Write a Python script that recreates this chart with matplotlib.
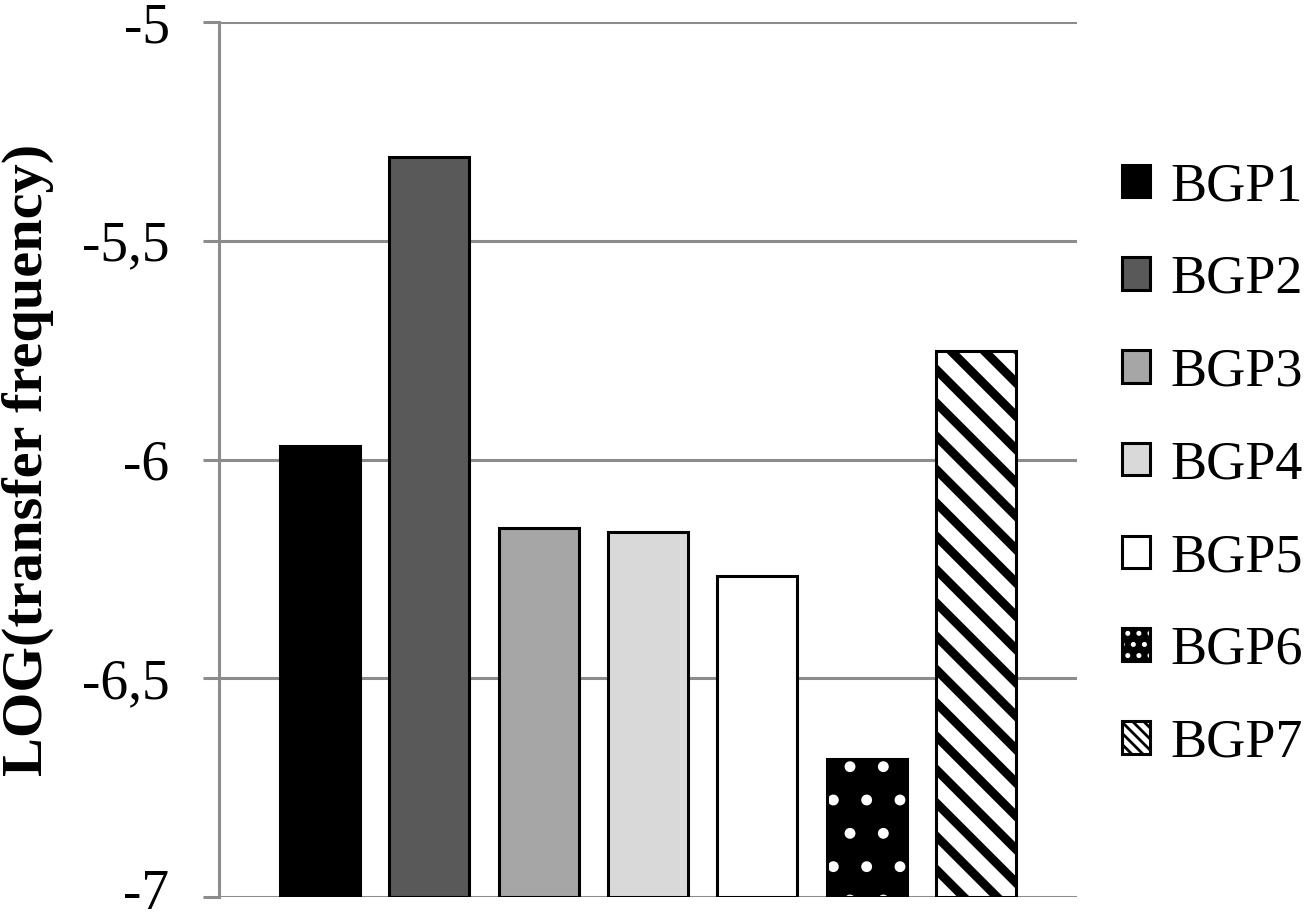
import matplotlib
matplotlib.use("Agg")
import matplotlib.pyplot as plt
from matplotlib.patches import Patch
from matplotlib.legend_handler import HandlerTuple
from matplotlib.transforms import ScaledTranslation
import numpy as np

series = ["BGP1", "BGP2", "BGP3", "BGP4", "BGP5", "BGP6", "BGP7"]
values = [-5.969, -5.309, -6.157, -6.166, -6.266, -6.685, -5.752]
yticks = [-7, -6.5, -6, -5.5, -5]
ytick_labels = ["-7", "-6,5", "-6", "-5,5", "-5"]

faces = ["#000000", "#595959", "#a6a6a6", "#d9d9d9", "#ffffff", "#000000", "#ffffff"]
hatches = [None, None, None, None, None, ".", "\\\\"]
legend_hatches = [None, None, None, None, None, "...", "\\\\\\\\\\\\"]
hatch_cols = [None, None, None, None, None, "#ffffff", "#000000"]
hatch_lws = [None, None, None, None, None, 1.5, 3.2]
legend_hatch_lws = [None, None, None, None, None, 1.6, 1.6]

plt.rcParams["font.family"] = ["Liberation Serif", "DejaVu Serif"]

DPI = 200
fig = plt.figure(figsize=(1307 / DPI, 922 / DPI), dpi=DPI)
ax = fig.add_axes([219 / 1307, 1 - 897 / 922, (1077 - 219) / 1307, (897 - 22) / 922])

grid_col = "#8c8c8c"
x = np.arange(len(series))
width = 0.73
base = -7
handles = []


def set_hlw(p, lw):
    if hasattr(p, "set_hatch_linewidth"):
        p.set_hatch_linewidth(lw)
    return p


for i, (s, v) in enumerate(zip(series, values)):
    h = v - base
    if hatches[i] is None:
        ax.bar(x[i], h, width, bottom=base, color=faces[i], edgecolor="black",
               linewidth=1.1, zorder=3)
        handles.append(Patch(facecolor=faces[i], edgecolor="black", linewidth=1.1))
    else:
        with plt.rc_context({"hatch.linewidth": hatch_lws[i]}):
            bars = ax.bar(x[i], h, width, bottom=base, color=faces[i], edgecolor=hatch_cols[i],
                          hatch=hatches[i], linewidth=0, zorder=3)
        for b in bars:
            set_hlw(b, hatch_lws[i])
        ax.bar(x[i], h, width, bottom=base, fill=False, edgecolor="black",
               linewidth=1.1, zorder=4)
        with plt.rc_context({"hatch.linewidth": legend_hatch_lws[i]}):
            p1 = Patch(facecolor=faces[i], edgecolor=hatch_cols[i],
                       hatch=legend_hatches[i], linewidth=0)
        set_hlw(p1, legend_hatch_lws[i])
        p2 = Patch(fill=False, edgecolor="black", linewidth=1.1)
        handles.append((p1, p2))

ax.set_xlim(-0.924, 6.924)
ax.set_ylim(-7, -5)
ax.set_yticks(yticks)
ax.set_yticklabels(ytick_labels, fontsize=20)
ax.set_xticks([])
ax.yaxis.grid(True, color=grid_col, linewidth=1.1, zorder=0)
ax.set_axisbelow(True)
for sp in ["top", "right", "bottom"]:
    ax.spines[sp].set_visible(False)
ax.spines["left"].set_color(grid_col)
ax.spines["left"].set_linewidth(1.1)
ax.tick_params(axis="y", direction="out", length=5.8, width=1.1, color=grid_col, pad=12)
ax.set_ylabel("LOG(transfer frequency)", fontsize=21, fontweight="bold", labelpad=10)

# keep the bottom tick label inside the canvas
bottom_tick = ax.yaxis.get_major_ticks()[0]
bottom_tick.label1.set_transform(bottom_tick.label1.get_transform()
                                 + ScaledTranslation(0, 2.8 / 72, fig.dpi_scale_trans))

leg = fig.legend(handles, series, loc="center left", bbox_to_anchor=(1122 / 1307, 1 - 465 / 922),
                 frameon=False, fontsize=19.5, handlelength=0.52, handleheight=0.55,
                 handletextpad=0.37, labelspacing=0.78, borderpad=0, borderaxespad=0,
                 handler_map={tuple: HandlerTuple(ndivide=1, pad=0)})

fig.savefig("out.png", dpi=DPI)
